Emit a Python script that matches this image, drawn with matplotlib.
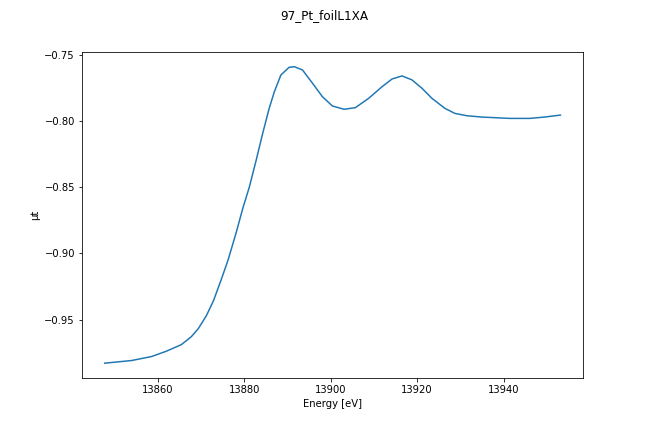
import matplotlib
matplotlib.use("Agg")
import matplotlib.pyplot as plt

# energy [eV] and mu*t
energy = [13847.8, 13854.0, 13858.6, 13862.0, 13865.5, 13867.8, 13869.4, 13871.3,
          13872.9, 13874.7, 13876.3, 13878.2, 13879.7, 13881.2, 13882.8, 13884.3,
          13885.8, 13887.0, 13888.5, 13890.4, 13891.6, 13893.5, 13895.8, 13898.1,
          13900.4, 13903.1, 13905.7, 13908.8, 13911.9, 13914.2, 13916.5, 13918.8,
          13921.1, 13923.4, 13926.4, 13928.7, 13931.5, 13935.0, 13941.4, 13946.0,
          13949.4, 13953.1]
mut = [-0.983, -0.981, -0.978, -0.974, -0.969, -0.963, -0.957, -0.947,
       -0.936, -0.920, -0.905, -0.884, -0.866, -0.850, -0.8295, -0.8093,
       -0.7904, -0.7778, -0.7652, -0.7594, -0.7589, -0.7614, -0.7714, -0.7816,
       -0.7886, -0.7911, -0.7899, -0.7828, -0.7740, -0.7682, -0.7659, -0.7689,
       -0.7752, -0.7828, -0.7904, -0.7942, -0.7960, -0.7970, -0.7980, -0.7980,
       -0.7970, -0.7955]

fig, ax = plt.subplots(figsize=(9, 6), dpi=72)
fig.subplots_adjust(left=0.1265, right=0.9, top=0.88, bottom=0.125)
ax.plot(energy, mut)
ax.set_xlabel("Energy [eV]")
ax.set_ylabel("μt")
fig.suptitle("97_Pt_foilL1XA")
fig.savefig("out.png", dpi=72)
